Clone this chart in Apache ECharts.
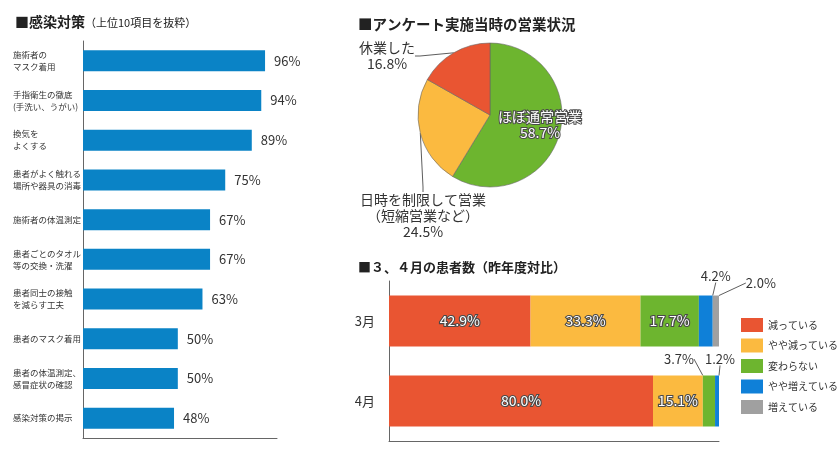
<!DOCTYPE html>
<html><head><meta charset="utf-8">
<script src="https://cdn.jsdelivr.net/npm/echarts@6/dist/echarts.min.js"></script>
<style>html,body{margin:0;padding:0;background:#fff}#c{width:839px;height:456px}</style>
</head><body><div id="c"></div>
<script>
// ---- data ----
const measureCats = ['施術者の\nマスク着用','手指衛生の徹底\n(手洗い、うがい)','換気を\nよくする','患者がよく触れる\n場所や器具の消毒','施術者の体温測定','患者ごとのタオル\n等の交換・洗濯','患者同士の接触\nを減らす工夫','患者のマスク着用','患者の体温測定、\n感冒症状の確認','感染対策の掲示'];
const measureVals = [96,94,89,75,67,67,63,50,50,48];

const pieNames = ['ほぼ通常営業','日時を制限して営業\n（短縮営業など）','休業した'];
const pieVals = [58.7,24.5,16.8];

const monthCats = ['3月','4月'];
const trendNames = ['減っている','やや減っている','変わらない','やや増えている','増えている'];
const marchVals = [42.9,33.3,17.7,4.2,2.0];
const aprilVals = [80.0,15.1,3.7,1.2,0];

// ---- style ----
const FONT = '"Noto Sans CJK JP", "Noto Sans", sans-serif';
const trendColors = ['#E95532','#FBBA40','#6DB52F','#0F80D8','#A0A0A0'];
const pieColors = ['#6DB52F','#FBBA40','#E95532'];
const pieCenter = [490,115];
const pieLabelOffsets = [[50,10],[-67,101],[-103,-59]];
// label moves for small stacked values: key = series-dataIndex
const smallOffsets = {'2-1':[-30,-42],'3-0':[10,-45],'3-1':[3,-42],'4-0':[45,-38]};

const chart = echarts.init(document.getElementById('c'), null, {renderer:'canvas'});

const stackSeries = trendNames.map((name, si) => {
  const vals = [marchVals[si], aprilVals[si]];
  return {
    name, type:'bar', stack:'s', xAxisIndex:1, yAxisIndex:1, barWidth:51,
    itemStyle:{color:trendColors[si]},
    data: vals.map((v, di) => {
      const small = v < 10;
      return {
        value: v,
        label: v === 0 ? {show:false} : (small ? {
          show:true, position:'inside', color:'#333', fontSize:13, fontFamily:FONT,
          textBorderWidth:0
        } : {
          show:true, position:'inside', color:'#fff', fontSize:14, fontFamily:FONT,
          textBorderColor:'#4a4a4a', textBorderWidth:2.2
        }),
        labelLine: small ? {show:true, lineStyle:{color:'#333', width:0.8}} : {show:false}
      };
    }),
    label:{show:true, formatter:p => p.value.toFixed(1) + '%'},
    labelLayout: p => {
      const o = smallOffsets[si + '-' + p.dataIndex];
      return o ? {dx:o[0], dy:o[1]} : {};
    }
  };
});

const option = {
  animation:false,
  textStyle:{fontFamily:FONT},
  title:[
    {text:'{a|■感染対策}{b|（上位10項目を抜粋）}', left:10, top:10,
     textStyle:{rich:{a:{fontSize:14, fontWeight:'bold', color:'#222', fontFamily:FONT}, b:{fontSize:11, fontWeight:'normal', color:'#222', fontFamily:FONT, padding:[2,0,0,0]}}}},
    {text:'■アンケート実施当時の営業状況', left:353, top:12,
     textStyle:{fontSize:14.5, fontWeight:'bold', color:'#222', fontFamily:FONT}},
    {text:'■３、４月の患者数（昨年度対比）', left:353, top:256,
     textStyle:{fontSize:13, fontWeight:'bold', color:'#222', fontFamily:FONT}}
  ],
  legend:{
    data:trendNames, orient:'vertical', left:736, top:313, itemWidth:22, itemHeight:14, itemGap:6.5,
    icon:'rect', textStyle:{fontSize:10, color:'#333', fontFamily:FONT}
  },
  grid:[
    {left:83, top:41, width:194, height:397},
    {left:389, top:281, width:330, height:160}
  ],
  xAxis:[
    {type:'value', gridIndex:0, min:0, max:102.3, show:true,
     axisLine:{show:true, lineStyle:{color:'#666'}}, axisTick:{show:false}, axisLabel:{show:false}, splitLine:{show:false}},
    {type:'value', gridIndex:1, min:0, max:100,
     axisLine:{show:true, lineStyle:{color:'#666'}}, axisTick:{show:false}, axisLabel:{show:false}, splitLine:{show:false}}
  ],
  yAxis:[
    {type:'category', gridIndex:0, data:measureCats, inverse:true,
     axisLine:{show:true, lineStyle:{color:'#666'}}, axisTick:{show:false},
     axisLabel:{align:'left', margin:70, fontSize:8.5, lineHeight:12, color:'#333', fontFamily:FONT}},
    {type:'category', gridIndex:1, data:monthCats, inverse:true,
     axisLine:{show:true, lineStyle:{color:'#666'}}, axisTick:{show:false},
     axisLabel:{margin:14, fontSize:13, color:'#333', fontFamily:FONT}}
  ],
  series:[
    {type:'bar', xAxisIndex:0, yAxisIndex:0, data:measureVals, barWidth:21,
     itemStyle:{color:'#0A83C6'},
     label:{show:true, position:'right', distance:9, formatter:'{c}%', fontSize:13, color:'#333', fontFamily:FONT}},
    ...stackSeries,
    {type:'pie', center:pieCenter, radius:72, startAngle:90, clockwise:true,
     data: pieVals.map((v,i) => ({name:pieNames[i], value:v,
       itemStyle:{color:pieColors[i]},
       label: i === 0 ? {color:'#fff', textBorderColor:'#4a4a4a', textBorderWidth:2} : {color:'#333'},
       labelLine:{show: i !== 0}
     })),
     itemStyle:{borderColor:'#666', borderWidth:0.6},
     label:{show:true, position:'outside', formatter:p => p.name + '\n' + p.value.toFixed(1) + '%',
       fontSize:14, lineHeight:16, fontFamily:FONT, align:'center'},
     labelLine:{lineStyle:{color:'#333', width:0.8}, length:5, length2:5},
     labelLayout: p => {
       const o = pieLabelOffsets[p.dataIndex];
       return {x:pieCenter[0]+o[0], y:pieCenter[1]+o[1], align:'center', verticalAlign:'middle'};
     }
    }
  ]
};
chart.setOption(option);
</script></body></html>
